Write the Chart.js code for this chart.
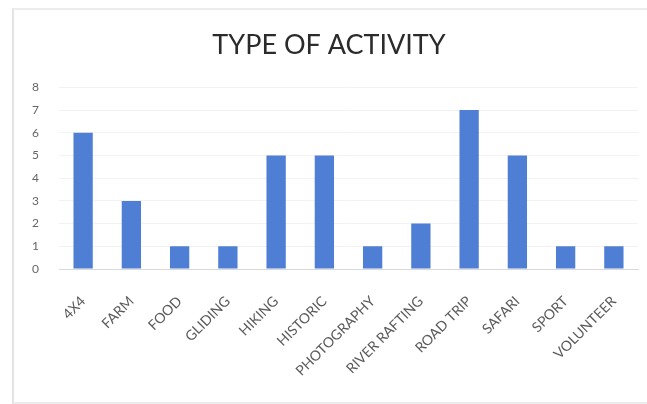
<!DOCTYPE html>
<html>
<head>
<meta charset="utf-8">
<script src="https://cdn.jsdelivr.net/npm/chart.js@4"></script>
<style>
  html, body { margin: 0; padding: 0; background: #fff; }
  #frame {
    position: absolute; left: 12px; top: 8px; width: 640px; height: 392px;
    border-left: 2px solid #e4e4e4; border-top: 2px solid #ececec; border-bottom: 2px solid #ececec;
  }
  #wrap { position: absolute; left: 0; top: 0; width: 647px; height: 404px; }
</style>
</head>
<body>
<div id="frame"></div>
<div id="wrap"><canvas id="chart"></canvas></div>
<script>
const categories = ['4X4', 'FARM', 'FOOD', 'GLIDING', 'HIKING', 'HISTORIC', 'PHOTOGRAPHY', 'RIVER RAFTING', 'ROAD TRIP', 'SAFARI', 'SPORT', 'VOLUNTEER'];
const counts = [6, 3, 1, 1, 5, 5, 1, 2, 7, 5, 1, 1];
const yTicks = [0, 1, 2, 3, 4, 5, 6, 7, 8];

const font = "Lato, 'Open Sans', sans-serif";

new Chart(document.getElementById('chart'), {
    type: 'bar',
    data: {
        labels: categories,
        datasets: [{
            data: counts,
            backgroundColor: '#4e7fd4',
            categoryPercentage: 1,
            barPercentage: 0.4
        }]
    },
    options: {
        responsive: true,
        maintainAspectRatio: false,
        animation: false,
        layout: { padding: { left: 20, right: 9, top: 20, bottom: 10 } },
        plugins: {
            legend: { display: false },
            tooltip: { enabled: false },
            title: {
                display: true,
                text: 'TYPE OF ACTIVITY',
                color: '#2b2b2b',
                font: { family: font, size: 27, weight: 'normal' },
                padding: { top: 9, bottom: 26 }
            }
        },
        scales: {
            x: {
                grid: { display: false },
                border: { color: '#d9d9d9' },
                afterFit: axis => { axis.height = 125; },
                ticks: {
                    color: '#5a5a5a',
                    font: { family: font, size: 14 },
                    padding: 16,
                    minRotation: 45,
                    maxRotation: 45,
                    autoSkip: false
                }
            },
            y: {
                min: 0,
                max: 8,
                afterBuildTicks: axis => { axis.ticks = yTicks.map(v => ({ value: v })); },
                afterFit: axis => { axis.width = 39; },
                grid: { color: '#f2f2f2', drawTicks: false },
                border: { display: false },
                ticks: {
                    color: '#666',
                    font: { family: font, size: 12 },
                    padding: 20
                }
            }
        }
    }
});
</script>
</body>
</html>
